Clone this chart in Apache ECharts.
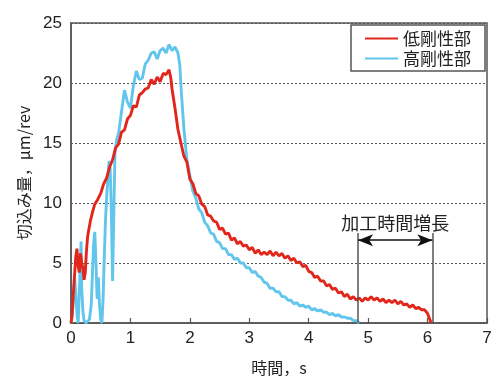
<!DOCTYPE html>
<html>
<head>
<meta charset="utf-8">
<script src="https://cdn.jsdelivr.net/npm/echarts@6/dist/echarts.min.js"></script>
<style>
html,body{margin:0;padding:0;background:#fff;}
#chart{width:492px;height:376px;}
</style>
</head>
<body>
<div id="chart"></div>
<script>
// ---- data ----
const seriesNames = ['低剛性部', '高剛性部'];
const xTicks = [0, 1, 2, 3, 4, 5, 6, 7];
const yTicks = [0, 5, 10, 15, 20, 25];

const tRed = [0,0.02,0.04,0.06,0.08,0.10,0.12,0.14,0.16,0.18,0.20,0.22,0.24,0.26,0.28,0.30,0.33,0.36,0.40,0.45,0.50,0.55,0.60,
0.65,0.70,0.75,0.80,0.85,0.90,0.95,1.00,1.05,1.10,1.15,1.20,1.25,1.30,1.35,1.40,1.45,1.50,1.55,1.60,1.65,1.68,1.70,1.75,1.80,1.85,1.90,1.95,
2.00,2.05,2.10,2.15,2.20,2.25,2.30,2.35,2.40,2.45,2.50,2.55,2.60,2.65,2.70,2.75,2.80,2.85,2.90,2.95,
3.00,3.05,3.10,3.15,3.20,3.25,3.30,3.35,3.40,3.45,3.50,3.55,3.60,3.65,3.70,3.75,3.80,3.85,3.90,3.95,
4.00,4.05,4.10,4.15,4.20,4.25,4.30,4.35,4.40,4.45,4.50,4.55,4.60,4.65,4.70,4.75,4.80,4.85,4.90,4.95,
5.00,5.05,5.10,5.15,5.20,5.25,5.30,5.35,5.40,5.45,5.50,5.55,5.60,5.65,5.70,5.75,5.80,5.85,5.90,5.95,6.00,6.03,6.06];
const redVals = [0,0.8,2.5,4.0,5.5,6.2,4.8,4.2,5.8,5.0,4.6,3.6,4.2,6.0,7.2,7.8,8.6,9.2,9.9,10.3,10.8,11.6,12.1,
13.0,13.6,14.6,14.9,15.9,16.1,17.0,17.3,18.1,18.0,19.0,19.2,19.5,19.6,20.3,19.9,20.5,20.1,20.8,20.7,21.1,20.4,19.5,17.9,16.1,15.0,13.9,13.4,
12.0,11.6,10.8,10.6,9.9,9.7,9.0,8.9,8.5,8.4,7.8,7.9,7.4,7.5,6.9,7.1,6.6,6.8,6.4,6.5,
6.1,6.3,5.8,6.1,5.7,5.9,5.7,6.0,5.6,5.9,5.6,5.8,5.4,5.6,5.2,5.4,5.0,5.1,4.7,4.8,
4.3,4.2,3.8,3.9,3.5,3.5,3.1,3.2,2.8,2.9,2.5,2.6,2.2,2.4,2.0,2.2,1.9,2.1,1.8,2.1,
1.9,2.2,1.9,2.1,1.8,2.0,1.7,1.9,1.7,1.9,1.6,1.8,1.5,1.6,1.3,1.5,1.2,1.3,1.1,1.1,0.8,0.4,0.0];

const tBlue = [0,0.02,0.04,0.06,0.08,0.10,0.12,0.14,0.16,0.17,0.18,0.20,0.22,0.25,0.28,0.31,0.34,0.36,0.38,0.40,0.42,0.44,0.46,0.48,0.50,0.52,0.54,0.56,0.58,0.60,0.62,0.64,0.66,0.68,0.70,0.72,0.74,0.77,0.80,
0.85,0.90,0.95,1.00,1.05,1.10,1.15,1.20,1.25,1.30,1.35,1.40,1.45,1.50,1.55,1.60,1.65,1.70,1.75,1.80,1.83,1.86,1.90,1.95,
2.00,2.05,2.10,2.15,2.20,2.25,2.30,2.35,2.40,2.45,2.50,2.55,2.60,2.65,2.70,2.75,2.80,2.85,2.90,2.95,
3.00,3.05,3.10,3.15,3.20,3.25,3.30,3.35,3.40,3.45,3.50,3.55,3.60,3.65,3.70,3.75,3.80,3.85,3.90,3.95,
4.00,4.05,4.10,4.15,4.20,4.25,4.30,4.35,4.40,4.45,4.50,4.55,4.60,4.65,4.70,4.75,4.80,4.85];
const blueVals = [0,0.5,2.0,3.8,2.5,0.8,0.0,2.5,5.5,6.8,3.0,1.0,0.2,0,0,0.3,1.5,4.0,6.5,7.6,5.0,2.0,3.8,1.5,0.3,0,2.0,5.5,8.5,10.5,12.0,13.5,12.8,9.0,3.5,9.0,14.2,15.3,15.8,
17.6,19.4,18.4,17.9,19.8,21.0,20.3,20.4,21.6,21.9,22.5,22.6,22.0,22.7,22.9,22.5,23.2,22.7,23.0,22.5,21.5,19.0,16.2,13.6,
12.3,11.0,10.4,9.5,9.2,8.4,8.1,7.5,7.4,6.8,6.7,6.2,6.2,5.7,5.7,5.3,5.4,5.0,5.0,4.6,
4.6,4.2,4.3,3.9,3.8,3.4,3.3,2.9,2.9,2.6,2.6,2.2,2.2,1.9,1.9,1.6,1.7,1.4,1.5,1.3,
1.4,1.1,1.2,1.0,1.1,0.9,0.9,0.7,0.8,0.6,0.7,0.5,0.5,0.4,0.4,0.2,0.2,0.0];

// annotation (加工時間増長): span of extra machining time
const annotText = '加工時間増長';
const annotStart = 4.83;
const annotEnd = 6.08;
const annotLineTop = 7.5;
const annotArrowY = 6.9;

const zip = (xs, ys) => xs.map((x, i) => [x, ys[i]]);

const chart = echarts.init(document.getElementById('chart'));
const cjk = '"Noto Sans CJK JP", "Noto Sans", sans-serif';
const latin = '"Liberation Sans", Arial, sans-serif';

chart.setOption({
  animation: false,
  backgroundColor: '#fff',
  grid: { left: 71, right: 5, top: 23, bottom: 53, containLabel: false, outerBoundsMode: 'none',
          show: true, borderColor: '#555', borderWidth: 1.5, backgroundColor: 'transparent' },
  legend: {
    data: seriesNames,
    orient: 'vertical',
    right: 7, top: 25,
    backgroundColor: '#fff',
    borderColor: '#555', borderWidth: 1.5, borderRadius: 0,
    padding: [5, 14, 4, 14],
    itemGap: 3,
    itemWidth: 33, itemHeight: 2,
    icon: 'rect',
    textStyle: { fontFamily: cjk, fontSize: 17, color: '#222' }
  },
  xAxis: {
    type: 'value', min: xTicks[0], max: xTicks[xTicks.length - 1], interval: 1,
    name: '時間，s', nameLocation: 'middle', nameGap: 37,
    nameTextStyle: { fontFamily: cjk, fontSize: 16, color: '#222' },
    axisLine: { lineStyle: { color: '#555', width: 1.5 } },
    axisTick: { inside: true, length: 5, lineStyle: { color: '#555', width: 1.2 } },
    axisLabel: { fontFamily: latin, fontSize: 17, color: '#222', margin: 7 },
    splitLine: { show: false }
  },
  yAxis: {
    type: 'value', min: yTicks[0], max: yTicks[yTicks.length - 1], interval: 5,
    name: '切込み量，μm/rev', nameLocation: 'middle', nameGap: 39, nameRotate: 90,
    nameTextStyle: { fontFamily: cjk, fontSize: 16, color: '#222' },
    axisLine: { show: true, lineStyle: { color: '#555', width: 1.5 } },
    axisTick: { show: false },
    axisLabel: { fontFamily: latin, fontSize: 17, color: '#222', margin: 9 },
    splitLine: { show: true, lineStyle: { color: '#555', type: [2, 2], width: 1 } }
  },
  series: [
    {
      name: seriesNames[1], type: 'line', data: zip(tBlue, blueVals),
      showSymbol: false, symbol: 'none',
      lineStyle: { color: '#62c5ec', width: 2.9 }, itemStyle: { color: '#62c5ec' }, z: 2
    },
    {
      name: seriesNames[0], type: 'line', data: zip(tRed, redVals),
      showSymbol: false, symbol: 'none',
      lineStyle: { color: '#e2261b', width: 2.9 }, itemStyle: { color: '#e2261b' }, z: 3,
      markLine: {
        silent: true, animation: false,
        symbol: ['none', 'none'],
        lineStyle: { color: '#555', width: 1.5, type: 'solid' },
        label: { show: false },
        data: [
          [{ coord: [annotStart, 0] }, { coord: [annotStart, annotLineTop] }],
          [{ coord: [annotEnd, 0] }, { coord: [annotEnd, annotLineTop] }],
          [{ coord: [annotStart, annotArrowY], symbol: 'arrow', symbolSize: [9, 15],
             lineStyle: { color: '#111', width: 1.5 },
             label: { show: true, formatter: annotText, position: 'middle', distance: 8,
                      fontFamily: cjk, fontSize: 18, color: '#222' } },
           { coord: [annotEnd, annotArrowY], symbol: 'arrow', symbolSize: [9, 15] }]
        ]
      }
    }
  ]
});
</script>
</body>
</html>
